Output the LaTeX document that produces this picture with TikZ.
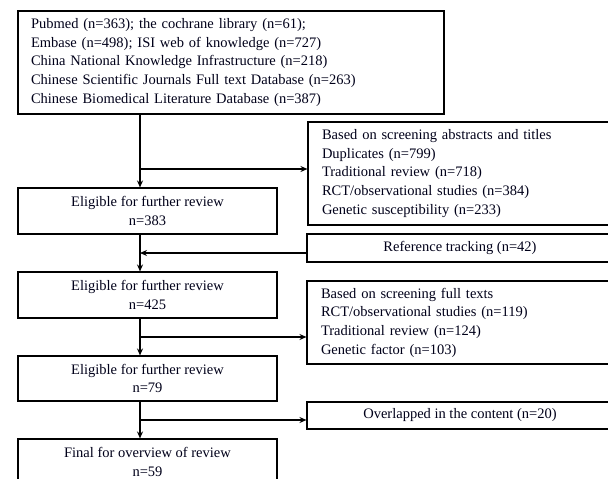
\documentclass[tikz,border=0pt]{standalone}
\usepackage{fontspec}
\setmainfont{Liberation Serif}
\usetikzlibrary{arrows.meta}
\begin{document}
\begin{tikzpicture}[x=1pt,y=-1pt,
  box/.style={draw=black,line width=1.1pt,rectangle,inner sep=0pt,
    font=\fontsize{14.5}{18.7}\selectfont,text=black!90!blue},
  lbox/.style={box,align=left},
  cbox/.style={box,align=center},
  arr/.style={line width=1.1pt,-{Stealth[length=7pt,width=6pt]}},
  ln/.style={line width=1.1pt}]
\useasboundingbox (0,0) rectangle (608,479);
\clip (0,0) rectangle (608,479);
\coordinate (mx) at (140,0);
\node[lbox,minimum width=426,minimum height=103,text width=400] (top) at (231,62.5)
 {Pubmed (n=363); the cochrane library (n=61);\\
  Embase (n=498); ISI web of knowledge (n=727)\\
  China National Knowledge Infrastructure (n=218)\\
  Chinese Scientific Journals Full text Database (n=263)\\
  Chinese Biomedical Literature Database (n=387)};
\node[lbox,minimum width=306,minimum height=103,text width=278] (r1) at (461,173.5)
 {Based on screening abstracts and titles\\
  Duplicates (n=799)\\
  Traditional review (n=718)\\
  RCT/observational studies (n=384)\\
  Genetic susceptibility (n=233)};
\node[cbox,minimum width=306,minimum height=28] (rt) at (460,248) {Reference tracking (n=42)};
\node[lbox,minimum width=306,minimum height=83,text width=278] (r2) at (460,322.5)
 {Based on screening full texts\\
  RCT/observational studies (n=119)\\
  Traditional review (n=124)\\
  Genetic factor (n=103)};
\node[cbox,minimum width=306,minimum height=27] (ov) at (460,415.5) {Overlapped in the content (n=20)};
\node[cbox,minimum width=259,minimum height=46] (b1) at (147.5,211) {Eligible for further review\\n=383};
\node[cbox,minimum width=259,minimum height=46] (b2) at (147.5,295) {Eligible for further review\\n=425};
\node[cbox,minimum width=259,minimum height=45] (b3) at (147.5,378.5) {Eligible for further review\\n=79};
\node[cbox,minimum width=259,minimum height=46] (b4) at (147.5,462) {Final for overview of review\\n=59};
\coordinate (j1) at (140,169);
\coordinate (j2) at (140,253);
\coordinate (j3) at (140,337);
\coordinate (j4) at (140,420);
\draw[arr] (top.south -| mx) -- (b1.north -| mx);
\draw[arr] (j1) -- (j1 -| r1.west);
\draw[arr] (b1.south -| mx) -- (b2.north -| mx);
\draw[arr] (j2 -| rt.west) -- (j2);
\draw[arr] (b2.south -| mx) -- (b3.north -| mx);
\draw[arr] (j3) -- (j3 -| r2.west);
\draw[arr] (b3.south -| mx) -- (b4.north -| mx);
\draw[arr] (j4) -- (j4 -| ov.west);
\end{tikzpicture}
\end{document}
